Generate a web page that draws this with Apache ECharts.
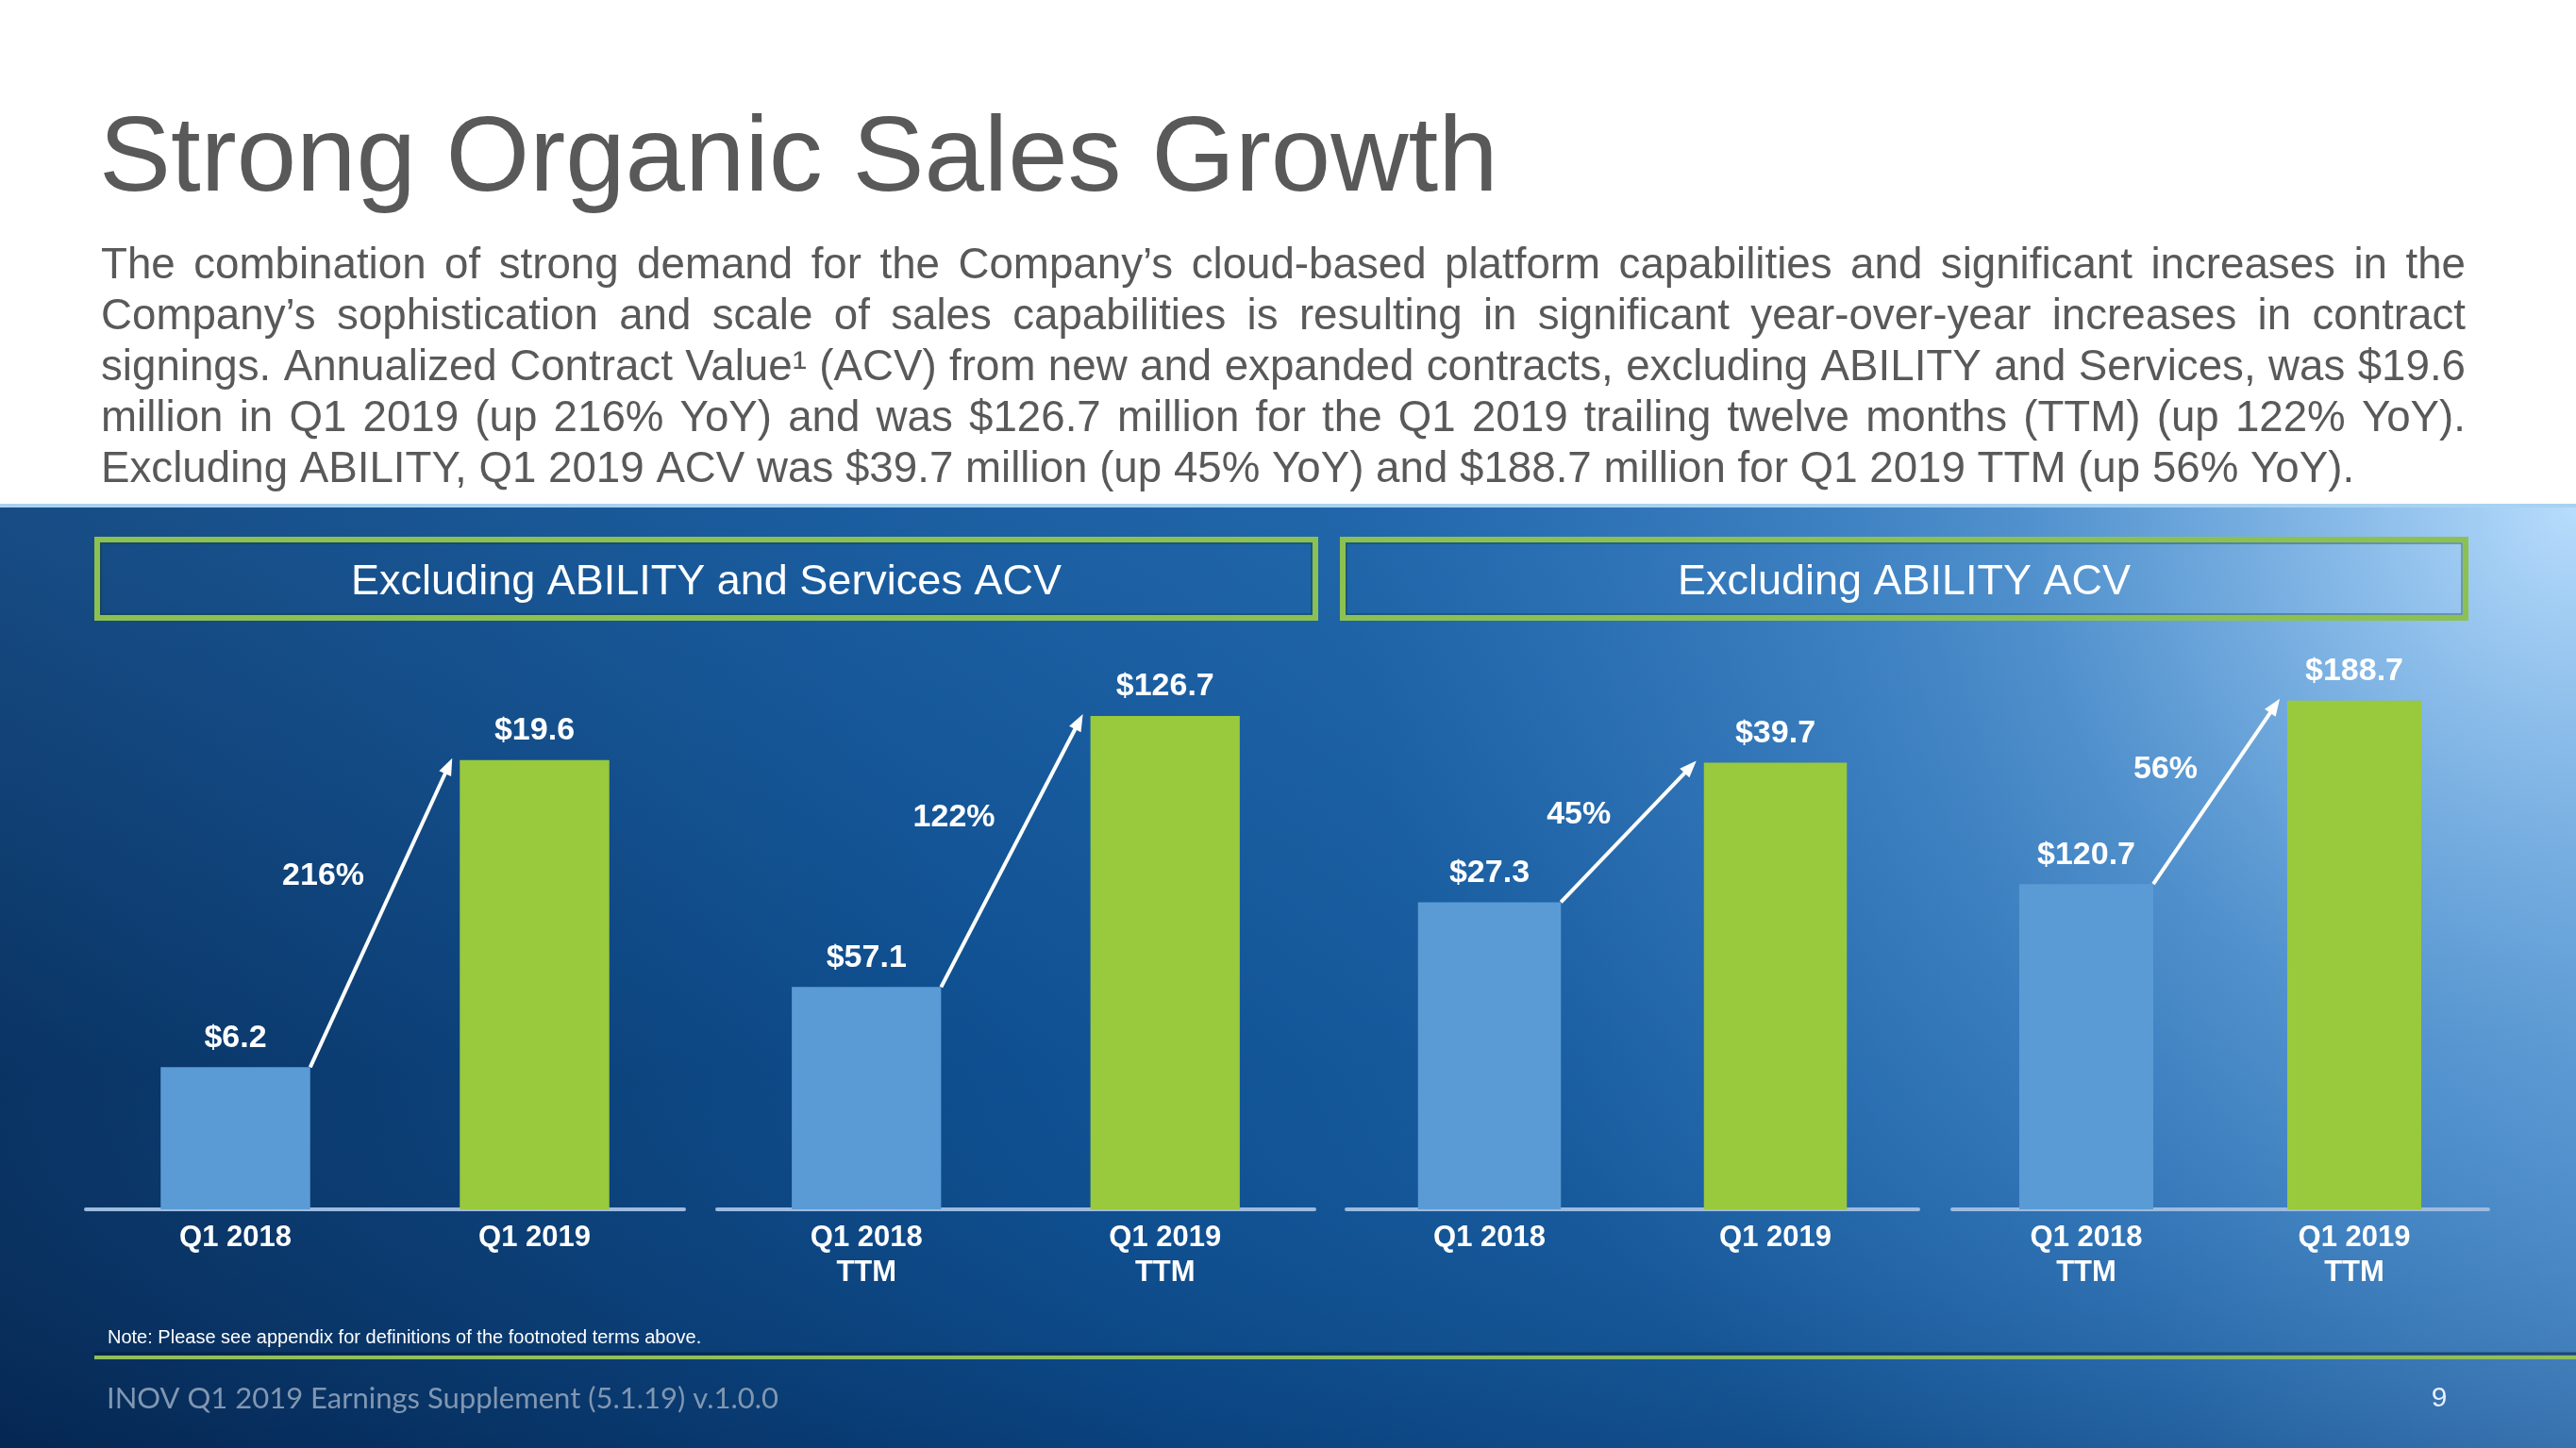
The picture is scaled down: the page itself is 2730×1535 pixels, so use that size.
<!DOCTYPE html>
<html><head><meta charset="utf-8">
<script src="https://cdn.jsdelivr.net/npm/echarts@6/dist/echarts.min.js"></script>
<style>html,body{margin:0;padding:0;background:#fff}#c{width:2730px;height:1535px}</style>
</head><body><div id="c"></div>
<script>
// ---------- data ----------
const titleText = 'Strong Organic Sales Growth';
const paragraphLines = [
  'The combination of strong demand for the Company\u2019s cloud-based platform capabilities and significant increases in the',
  'Company\u2019s sophistication and scale of sales capabilities is resulting in significant year-over-year increases in contract',
  'signings. Annualized Contract Value\u00B9 (ACV) from new and expanded contracts, excluding ABILITY and Services, was $19.6',
  'million in Q1 2019 (up 216% YoY) and was $126.7 million for the Q1 2019 trailing twelve months (TTM) (up 122% YoY).',
  'Excluding ABILITY, Q1 2019 ACV was $39.7 million (up 45% YoY) and $188.7 million for Q1 2019 TTM (up 56% YoY).'
];
const panelTitles = ['Excluding ABILITY and Services ACV', 'Excluding ABILITY ACV'];
const categoriesQuarter = ['Q1 2018', 'Q1 2019'];
const categoriesTTM = ['Q1 2018\nTTM', 'Q1 2019\nTTM'];
const acvExServicesQuarter = [6.2, 19.6];
const acvExServicesTTM = [57.1, 126.7];
const acvExAbilityQuarter = [27.3, 39.7];
const acvExAbilityTTM = [120.7, 188.7];
const growthLabels = ['216%', '122%', '45%', '56%'];
const noteText = 'Note: Please see appendix for definitions of the footnoted terms above.';
const footerText = 'INOV Q1 2019 Earnings Supplement (5.1.19) v.1.0.0';
const pageNumber = '9';

// ---------- layout / style ----------
const FONT = '"Liberation Sans", Arial, Helvetica, sans-serif';
const BLUE = '#5b9bd5';
const GREEN = '#99c93c';
const panels = [
  { cats: categoriesQuarter, vals: acvExServicesQuarter, growth: growthLabels[0] },
  { cats: categoriesTTM, vals: acvExServicesTTM, growth: growthLabels[1] },
  { cats: categoriesQuarter, vals: acvExAbilityQuarter, growth: growthLabels[2] },
  { cats: categoriesTTM, vals: acvExAbilityTTM, growth: growthLabels[3] }
];
const gridPos = [
  { left: 91, width: 634 },
  { left: 760, width: 633 },
  { left: 1427, width: 606 },
  { left: 2069, width: 568 }
];
const yMax = [23.95, 141.0, 48.8, 203.7];
const GRID_TOP = 700, GRID_H = 582;

const chart = echarts.init(document.getElementById('c'), null, { renderer: 'canvas' });

function txt(x, y, text, fill, font, align) {
  return { type: 'text', x: x, y: y, style: { text: text, fill: fill, font: font, align: align || 'left', textAlign: align || 'left', verticalAlign: 'middle', textVerticalAlign: 'middle' } };
}

// graphic elements
const elements = [];
elements.push({
  type: 'rect', z: -10, shape: { x: 0, y: 537, width: 2730, height: 998 },
  style: { fill: new echarts.graphic.LinearGradient(0, 1, 1, 0, [
    { offset: 0, color: '#062b57' },
    { offset: 0.4, color: '#0c4d8e' },
    { offset: 0.75, color: '#1f67ab' },
    { offset: 1, color: '#4f90cc' }
  ]) }, silent: true
});
elements.push({
  type: 'rect', z: -9, shape: { x: 0, y: 537, width: 2730, height: 998 },
  style: { fill: new echarts.graphic.LinearGradient(0, 0, 0, 1, [
    { offset: 0, color: 'rgba(60,130,200,0.3)' },
    { offset: 0.6, color: 'rgba(60,130,200,0.05)' },
    { offset: 1, color: 'rgba(0,20,60,0.2)' }
  ]) }, silent: true
});
elements.push({
  type: 'rect', z: -8, shape: { x: 0, y: 537, width: 2730, height: 998 },
  style: { fill: new echarts.graphic.RadialGradient(1, 0, 1.3, [
    { offset: 0, color: 'rgba(190,225,255,0.95)' },
    { offset: 0.45, color: 'rgba(130,185,235,0.4)' },
    { offset: 1, color: 'rgba(90,150,220,0)' }
  ]) }, silent: true
});
elements.push({ type: 'rect', z: -7, shape: { x: 0, y: 534, width: 2730, height: 4 }, style: { fill: '#a8d2f0' }, silent: true });

// title
elements.push(txt(105, 171, titleText, '#595959', '114px ' + FONT));

// justified paragraph
const PX = 107, PW = 2613 - 107, PFS = 45.7, LINE0 = 282, LSTEP = 54.2;
const mctx = document.createElement('canvas').getContext('2d');
mctx.font = PFS + 'px ' + FONT;
paragraphLines.forEach((line, li) => {
  const words = line.split(' ');
  const widths = words.map(w => mctx.measureText(w).width);
  const total = widths.reduce((a, b) => a + b, 0);
  const last = li === paragraphLines.length - 1;
  const gap = last ? mctx.measureText(' ').width : (PW - total) / (words.length - 1);
  let x = PX;
  words.forEach((w, k) => {
    elements.push(txt(x, LINE0 + li * LSTEP, w, '#595959', PFS + 'px ' + FONT));
    x += widths[k] + gap;
  });
});

// panel header boxes
const boxes = [{ x: 103, w: 1291 }, { x: 1423, w: 1190 }];
boxes.forEach((b, i) => {
  elements.push({ type: 'rect', shape: { x: b.x, y: 572, width: b.w, height: 83 }, style: { fill: 'none', stroke: '#8cc152', lineWidth: 6 } });
  elements.push({ type: 'rect', shape: { x: b.x + 4, y: 576, width: b.w - 8, height: 75 }, style: { fill: 'none', stroke: 'rgba(20,60,40,0.45)', lineWidth: 1.5 } });
  elements.push(txt(b.x + b.w / 2, 618, panelTitles[i], '#ffffff', '45px ' + FONT, 'center'));
});

// note, green rule, footer
elements.push(txt(114, 1418, noteText, '#ffffff', '20px ' + FONT));
elements.push({ type: 'line', shape: { x1: 100, y1: 1435, x2: 2730, y2: 1435 }, style: { stroke: 'rgba(8,28,50,0.55)', lineWidth: 3 } });
elements.push({ type: 'line', shape: { x1: 100, y1: 1439, x2: 2730, y2: 1439 }, style: { stroke: '#8fbe5e', lineWidth: 4 } });
elements.push(txt(113, 1483, footerText, '#8197b1', '31px Lato, "Open Sans", sans-serif'));
elements.push(txt(2585, 1483, pageNumber, '#e8f0fa', '30px ' + FONT, 'center'));

const grid = [], xAxis = [], yAxis = [], series = [];
panels.forEach((p, i) => {
  grid.push({ left: gridPos[i].left, width: gridPos[i].width, top: GRID_TOP, height: GRID_H, containLabel: false });
  xAxis.push({
    type: 'category', gridIndex: i, data: p.cats,
    axisLine: { show: true, lineStyle: { color: '#9dbbe0', width: 4 } },
    axisTick: { show: false },
    axisLabel: { color: '#ffffff', fontSize: 31, fontWeight: 'bold', fontFamily: FONT, lineHeight: 37, margin: 12, interval: 0 }
  });
  yAxis.push({ type: 'value', gridIndex: i, min: 0, max: yMax[i], show: false, splitLine: { show: false } });
  series.push({
    type: 'bar', xAxisIndex: i, yAxisIndex: i, barWidth: '50%', silent: true,
    data: p.vals.map((v, j) => ({ value: v, itemStyle: { color: j === 0 ? BLUE : GREEN } })),
    label: { show: true, position: 'top', distance: 14, color: '#ffffff', fontSize: 34, fontWeight: 'bold', fontFamily: FONT,
      formatter: d => '$' + Number(d.value).toFixed(1) }
  });
  series.push({
    type: 'custom', xAxisIndex: i, yAxisIndex: i, silent: true, z: 5,
    encode: { x: [0, 2], y: [1, 3] },
    data: [[0, p.vals[0], 1, p.vals[1]]],
    renderItem: (params, api) => {
      const a = api.coord([api.value(0), api.value(1)]);
      const b = api.coord([api.value(2), api.value(3)]);
      const bw = api.size([1, 0])[0] * 0.5;
      const x0 = a[0] + bw / 2, y0 = a[1];
      const x1 = b[0] - bw / 2 - 8, y1 = b[1] - 2;
      const dx = x1 - x0, dy = y1 - y0, len = Math.hypot(dx, dy);
      const ux = dx / len, uy = dy / len, head = 18, hw = 7;
      const bx = x1 - ux * head, by = y1 - uy * head, px = -uy, py = ux;
      const t = 0.62, lx = x0 + dx * t, ly = y0 + dy * t;
      return { type: 'group', children: [
        { type: 'line', shape: { x1: x0, y1: y0, x2: bx + ux * 2, y2: by + uy * 2 }, style: { stroke: '#ffffff', lineWidth: 4 } },
        { type: 'polygon', shape: { points: [[x1, y1], [bx + px * hw, by + py * hw], [bx - px * hw, by - py * hw]] }, style: { fill: '#ffffff' } },
        { type: 'text', x: lx - 36, y: ly, style: { text: p.growth, fill: '#ffffff', font: 'bold 34px ' + FONT, align: 'right', textAlign: 'right', verticalAlign: 'middle', textVerticalAlign: 'middle' } }
      ] };
    }
  });
});

chart.setOption({
  animation: false,
  backgroundColor: '#ffffff',
  graphic: { elements: elements },
  grid: grid, xAxis: xAxis, yAxis: yAxis, series: series
});
</script></body></html>
